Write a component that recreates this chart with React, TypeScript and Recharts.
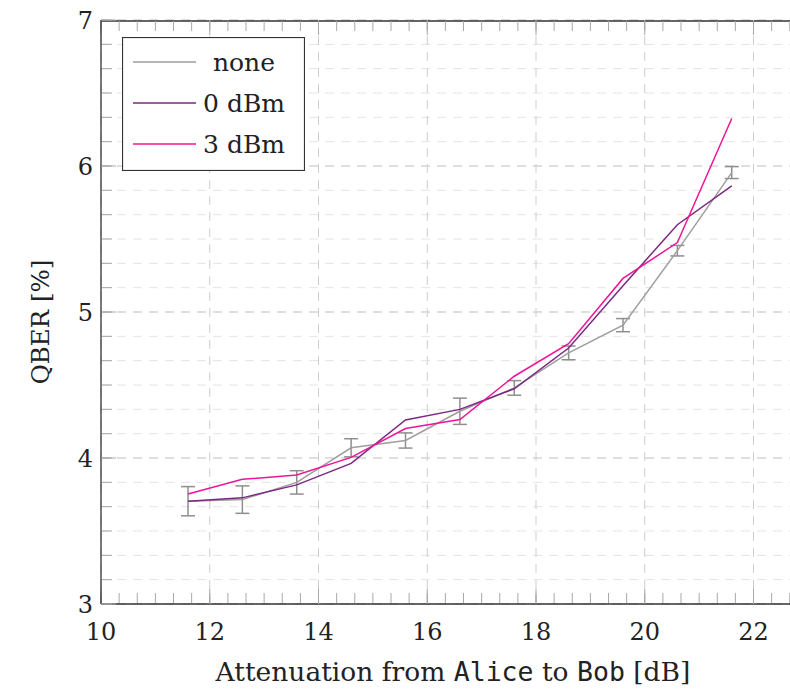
import React from 'react';
import { LineChart, Line, XAxis, YAxis, CartesianGrid, ErrorBar, Legend } from 'recharts';

// ---- data ----
const attenuation = [11.6, 12.6, 13.6, 14.6, 15.6, 16.6, 17.6, 18.6, 19.6, 20.6, 21.6];
const qberNone = [3.704, 3.715, 3.833, 4.07, 4.12, 4.32, 4.48, 4.72, 4.91, 5.42, 5.955];
const qberNoneErr = [0.1, 0.094, 0.08, 0.062, 0.052, 0.09, 0.05, 0.047, 0.045, 0.036, 0.041];
const qber0dBm = [3.704, 3.727, 3.816, 3.963, 4.261, 4.333, 4.474, 4.753, 5.18, 5.598, 5.864];
const qber3dBm = [3.754, 3.854, 3.884, 4.004, 4.202, 4.263, 4.56, 4.783, 5.23, 5.476, 6.325];
const seriesNames = ['none', '0 dBm', '3 dBm'];

const xMajorTicks = [10, 12, 14, 16, 18, 20, 22];
const yMajorTicks = [3, 4, 5, 6, 7];
const xMinorTicks = Array.from({ length: 39 }, (_, k) => 10 + k / 3);
const yMinorTicks = Array.from({ length: 25 }, (_, k) => 3 + k / 6);

const data = attenuation.map((x, i) => ({
  x,
  none: qberNone[i],
  noneErr: qberNoneErr[i],
  dbm0: qber0dBm[i],
  dbm3: qber3dBm[i],
}));

const FONT = '"DejaVu Serif", serif';
const MONO = '"DejaVu Sans Mono", monospace';
const TEXT = '#222';
const X_DOMAIN: [number, number] = [10, 22.8];
const Y_DOMAIN: [number, number] = [3, 7];

const tickStyle = { fill: TEXT, fontSize: 24, fontFamily: FONT };
const minorTickLine = { stroke: '#a8a8a8', strokeWidth: 1 };
const EmptyTick = () => <g />;
const noLabel = () => '';

const LegendBox = (props: any) => {
  const payload = [...(props.payload || [])].sort(
    (a: any, b: any) => seriesNames.indexOf(a.value) - seriesNames.indexOf(b.value)
  );
  return (
    <svg width={183} height={134} style={{ display: 'block' }}>
      <rect x={0.5} y={0.5} width={182} height={133} fill="#fff" stroke="#333" strokeWidth={1.2} />
      {payload.map((p: any, i: number) => {
        const cy = 25 + i * 41;
        return (
          <g key={i}>
            <line x1={11} x2={74} y1={cy} y2={cy} stroke={p.color} strokeWidth={1.5} />
            <text x={122} y={cy} textAnchor="middle" dominantBaseline="central" fill={TEXT} fontSize={25} fontFamily={FONT}>
              {p.value}
            </text>
          </g>
        );
      })}
    </svg>
  );
};

const XLabel = (props: any) => {
  const vb = props.viewBox || { x: 0, y: 0 };
  return (
    <text x={vb.x + 352} y={vb.y + 77} textAnchor="middle" fill={TEXT} fontSize={26.5} fontFamily={FONT}>
      Attenuation from <tspan fontFamily={MONO}>Alice</tspan> to <tspan fontFamily={MONO}>Bob</tspan> [dB]
    </text>
  );
};

const YLabel = (props: any) => {
  const vb = props.viewBox || { x: 0, y: 0, height: 0 };
  const cx = vb.x + 40;
  const cy = vb.y + vb.height / 2 + 10;
  return (
    <text x={cx} y={cy} transform={`rotate(-90 ${cx} ${cy})`} textAnchor="middle" dominantBaseline="central" fill={TEXT} fontSize={24.5} fontFamily={FONT}>
      QBER [%]
    </text>
  );
};

const tickOnly = {
  mirror: true,
  allowDataOverflow: true,
  type: 'number' as const,
  tick: <EmptyTick />,
  tickFormatter: noLabel,
  interval: 0 as const,
  axisLine: false,
  tickLine: minorTickLine,
};

export default function App() {
  return (
    <div style={{ position: 'absolute', left: 0, top: 0, width: 790, height: 689, overflow: 'hidden', background: '#fff' }}>
      <LineChart width={797} height={689} data={data} margin={{ top: 20, right: 0, bottom: 0, left: 0 }}>
        <CartesianGrid xAxisId="x" yAxisId="yMinor" vertical={false} stroke="#e4e4e4" strokeDasharray="9 7" />
        <CartesianGrid xAxisId="x" yAxisId="y" stroke="#cdcdcd" strokeDasharray="9 7" />

        <XAxis
          xAxisId="x"
          dataKey="x"
          type="number"
          domain={X_DOMAIN}
          allowDataOverflow
          ticks={xMajorTicks}
          interval={0}
          height={85}
          tickSize={0}
          tickMargin={19}
          tick={tickStyle}
          axisLine={{ stroke: '#333', strokeWidth: 1.3 }}
          label={<XLabel />}
        />
        <XAxis xAxisId="xMinB" dataKey="x" domain={X_DOMAIN} ticks={xMinorTicks} height={1} tickSize={10} {...tickOnly} />
        <XAxis xAxisId="xMajB" dataKey="x" domain={X_DOMAIN} ticks={xMajorTicks} height={1} tickSize={15} {...tickOnly} />
        <XAxis xAxisId="xMinT" orientation="top" dataKey="x" domain={X_DOMAIN} ticks={xMinorTicks} height={1} tickSize={10} {...tickOnly} axisLine={{ stroke: '#333', strokeWidth: 1.3 }} />
        <XAxis xAxisId="xMajT" orientation="top" dataKey="x" domain={X_DOMAIN} ticks={xMajorTicks} height={1} tickSize={15} {...tickOnly} />

        <YAxis
          yAxisId="y"
          type="number"
          domain={Y_DOMAIN}
          allowDataOverflow
          ticks={yMajorTicks}
          interval={0}
          width={101}
          tickSize={0}
          tickMargin={8}
          tick={tickStyle}
          axisLine={{ stroke: '#333', strokeWidth: 1.3 }}
          label={<YLabel />}
        />
        <YAxis yAxisId="yMinor" domain={Y_DOMAIN} ticks={yMinorTicks} width={1} tickSize={10} {...tickOnly} />
        <YAxis yAxisId="yMajor" domain={Y_DOMAIN} ticks={yMajorTicks} width={1} tickSize={15} {...tickOnly} />

        <Line xAxisId="x" yAxisId="y" type="linear" dataKey="none" name={seriesNames[0]} stroke="#9e9e9e" strokeWidth={1.5} dot={false} isAnimationActive={false}>
          <ErrorBar dataKey="noneErr" direction="y" width={7} stroke="#8f8f8f" strokeWidth={1.5} isAnimationActive={false} />
        </Line>
        <Line xAxisId="x" yAxisId="y" type="linear" dataKey="dbm0" name={seriesNames[1]} stroke="#7d2882" strokeWidth={1.5} dot={false} isAnimationActive={false} />
        <Line xAxisId="x" yAxisId="y" type="linear" dataKey="dbm3" name={seriesNames[2]} stroke="#f01496" strokeWidth={1.5} dot={false} isAnimationActive={false} />

        <Legend
          layout="vertical"
          align="center"
          verticalAlign="middle"
          content={<LegendBox />}
          wrapperStyle={{ left: 122, top: 37, width: 183, height: 134 }}
        />
      </LineChart>
    </div>
  );
}
